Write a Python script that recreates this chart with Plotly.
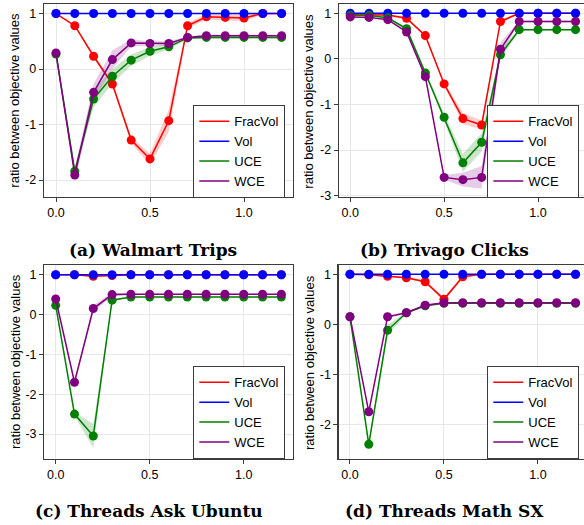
import plotly.graph_objects as go

X = [0.0, 0.1, 0.2, 0.3, 0.4, 0.5, 0.6, 0.7, 0.8, 0.9, 1.0, 1.1, 1.2]
SERIES = ["FracVol", "Vol", "UCE", "WCE"]
CAPTIONS = ["(a) Walmart Trips", "(b) Trivago Clicks", "(c) Threads Ask Ubuntu", "(d) Threads Math SX"]
X_TICKS = [0.0, 0.5, 1.0]
X_TICK_LABELS = ["0.0", "0.5", "1.0"]

# (a) Walmart Trips
A_FRACVOL = [1.0, 0.78, 0.23, -0.27, -1.28, -1.62, -0.93, 0.78, 0.94, 0.93, 0.92, 1.0, 1.0]
A_VOL = [1.0] * 13
A_UCE = [0.27, -1.84, -0.54, -0.13, 0.16, 0.32, 0.40, 0.56, 0.57, 0.57, 0.57, 0.57, 0.57]
A_WCE = [0.29, -1.91, -0.42, 0.17, 0.47, 0.46, 0.46, 0.57, 0.60, 0.60, 0.60, 0.60, 0.60]
A_FRACVOL_ERR = [0.0, 0.02, 0.03, 0.05, 0.06, 0.1, 0.2, 0.05, 0.05, 0.06, 0.06, 0.02, 0.0]
A_VOL_ERR = [0.0] * 13
A_UCE_ERR = [0.02, 0.06, 0.15, 0.13, 0.1, 0.08, 0.05, 0.02, 0.02, 0.02, 0.02, 0.02, 0.02]
A_WCE_ERR = [0.02, 0.12, 0.15, 0.17, 0.06, 0.04, 0.04, 0.02, 0.02, 0.02, 0.02, 0.02, 0.02]

# (b) Trivago Clicks
B_FRACVOL = [0.97, 0.97, 0.96, 0.89, 0.51, -0.55, -1.31, -1.45, 0.82, 1.0, 1.0, 1.0, 1.0]
B_VOL = [1.0] * 13
B_UCE = [0.95, 0.95, 0.90, 0.66, -0.31, -1.28, -2.28, -1.83, 0.09, 0.64, 0.64, 0.64, 0.64]
B_WCE = [0.92, 0.91, 0.86, 0.59, -0.39, -2.60, -2.65, -2.60, 0.21, 0.82, 0.82, 0.82, 0.82]
B_FRACVOL_ERR = [0.01, 0.01, 0.02, 0.03, 0.03, 0.04, 0.12, 0.1, 0.05, 0.01, 0.0, 0.0, 0.0]
B_VOL_ERR = [0.0] * 13
B_UCE_ERR = [0.01, 0.01, 0.02, 0.03, 0.05, 0.08, 0.2, 0.2, 0.1, 0.03, 0.02, 0.02, 0.02]
B_WCE_ERR = [0.01, 0.01, 0.02, 0.03, 0.05, 0.05, 0.15, 0.25, 0.15, 0.02, 0.02, 0.02, 0.02]

# (c) Threads Ask Ubuntu
C_FRACVOL = [1.0, 1.0, 0.96, 0.98, 1.0, 1.0, 1.0, 1.0, 1.0, 1.0, 1.0, 1.0, 1.0]
C_VOL = [1.0] * 13
C_UCE = [0.23, -2.50, -3.05, 0.36, 0.44, 0.44, 0.44, 0.44, 0.44, 0.44, 0.44, 0.44, 0.44]
C_WCE = [0.39, -1.70, 0.15, 0.50, 0.51, 0.51, 0.51, 0.51, 0.51, 0.51, 0.51, 0.51, 0.51]
C_FRACVOL_ERR = [0.0, 0.0, 0.03, 0.02, 0.0, 0.0, 0.0, 0.0, 0.0, 0.0, 0.0, 0.0, 0.0]
C_VOL_ERR = [0.0] * 13
C_UCE_ERR = [0.02, 0.05, 0.3, 0.02, 0.01, 0.01, 0.01, 0.01, 0.01, 0.01, 0.01, 0.01, 0.01]
C_WCE_ERR = [0.02, 0.05, 0.08, 0.05, 0.01, 0.01, 0.01, 0.01, 0.01, 0.01, 0.01, 0.01, 0.01]

# (d) Threads Math SX
D_FRACVOL = [1.0, 0.99, 0.96, 0.93, 0.85, 0.50, 0.95, 1.0, 1.0, 1.0, 1.0, 1.0, 1.0]
D_VOL = [1.0] * 13
D_UCE = [0.15, -2.40, -0.12, 0.23, 0.37, 0.42, 0.42, 0.42, 0.42, 0.42, 0.42, 0.42, 0.42]
D_WCE = [0.15, -1.75, 0.15, 0.23, 0.38, 0.43, 0.43, 0.43, 0.43, 0.43, 0.43, 0.43, 0.43]
D_FRACVOL_ERR = [0.0, 0.01, 0.02, 0.02, 0.03, 0.04, 0.03, 0.0, 0.0, 0.0, 0.0, 0.0, 0.0]
D_VOL_ERR = [0.0] * 13
D_UCE_ERR = [0.02, 0.05, 0.1, 0.03, 0.02, 0.01, 0.01, 0.01, 0.01, 0.01, 0.01, 0.01, 0.01]
D_WCE_ERR = [0.02, 0.04, 0.03, 0.02, 0.02, 0.01, 0.01, 0.01, 0.01, 0.01, 0.01, 0.01, 0.01]

PANELS = [
    ([A_FRACVOL, A_VOL, A_UCE, A_WCE], [A_FRACVOL_ERR, A_VOL_ERR, A_UCE_ERR, A_WCE_ERR]),
    ([B_FRACVOL, B_VOL, B_UCE, B_WCE], [B_FRACVOL_ERR, B_VOL_ERR, B_UCE_ERR, B_WCE_ERR]),
    ([C_FRACVOL, C_VOL, C_UCE, C_WCE], [C_FRACVOL_ERR, C_VOL_ERR, C_UCE_ERR, C_WCE_ERR]),
    ([D_FRACVOL, D_VOL, D_UCE, D_WCE], [D_FRACVOL_ERR, D_VOL_ERR, D_UCE_ERR, D_WCE_ERR]),
]

COLORS = ["rgb(255,0,0)", "rgb(0,0,255)", "rgb(0,128,0)", "rgb(128,0,128)"]
FILLS = ["rgba(255,0,0,0.2)", "rgba(0,0,255,0.2)", "rgba(0,128,0,0.2)", "rgba(128,0,128,0.2)"]

W, H = 584, 525


def px(xw):
    return min(max(xw / W, 0.0), 1.0)


def py(yw):
    return min(max(1 - yw / H, 0.0), 1.0)


# (left, right, top, bottom) in window pixels
BOXES = [(44, 293, 4.3, 197), (339, 584, 4.3, 197), (44.3, 293, 265.3, 458.7), (338.7, 584, 265.3, 458.7)]
XRANGES = [[-0.0638, 1.2606], [-0.060, 1.245], [-0.0606, 1.262], [-0.060, 1.245]]
YRANGES = [[-2.306, 1.166], [-3.03, 1.197], [-3.62, 1.236], [-2.688, 1.18]]
YTICKS = [[-2, -1, 0, 1], [-3, -2, -1, 0, 1], [-3, -2, -1, 0, 1], [-2, -1, 0, 1]]
LEGEND_POS = [(285, 105), (579, 105), (285, 366), (579, 366)]
YTITLE_X = [15, 309, 15, 309]
CAPTION_POS = [(153, 250), (444, 250), (149, 511), (444, 511)]

fig = go.Figure()
SANS = "Liberation Sans"
AXCOL = "#3c3c3c"

for p, (vals, errs) in enumerate(PANELS):
    xa = "x" if p == 0 else f"x{p+1}"
    ya = "y" if p == 0 else f"y{p+1}"
    lg = "legend" if p == 0 else f"legend{p+1}"
    for s, name in enumerate(SERIES):
        v = vals[s]
        e = errs[s]
        lo = [a - b for a, b in zip(v, e)]
        hi = [a + b for a, b in zip(v, e)]
        fig.add_trace(go.Scatter(x=X, y=lo, mode="lines", line=dict(width=0), hoverinfo="skip",
                                 showlegend=False, xaxis=xa, yaxis=ya))
        fig.add_trace(go.Scatter(x=X, y=hi, mode="lines", line=dict(width=0), fill="tonexty",
                                 fillcolor=FILLS[s], hoverinfo="skip", showlegend=False,
                                 xaxis=xa, yaxis=ya))
        fig.add_trace(go.Scatter(x=X, y=v, mode="lines", name=name,
                                 line=dict(color=COLORS[s], width=1.5),
                                 legend=lg, xaxis=xa, yaxis=ya))
        fig.add_trace(go.Scatter(x=X, y=v, mode="markers", name=name, showlegend=False,
                                 marker=dict(color=COLORS[s], size=9, line=dict(width=0)),
                                 xaxis=xa, yaxis=ya))

layout = dict(
    width=W, height=H, margin=dict(l=0, r=0, t=0, b=0, autoexpand=False),
    paper_bgcolor="white", plot_bgcolor="white",
    font=dict(family=SANS, size=13, color="black"),
)
annotations = []
for p in range(4):
    l, r, t, b = BOXES[p]
    xk = "xaxis" if p == 0 else f"xaxis{p+1}"
    yk = "yaxis" if p == 0 else f"yaxis{p+1}"
    anchor_x = "y" if p == 0 else f"y{p+1}"
    anchor_y = "x" if p == 0 else f"x{p+1}"
    right_panel = p in (1, 3)
    layout[xk] = dict(domain=[px(l), px(r)], range=XRANGES[p], anchor=anchor_x,
                      tickvals=X_TICKS, ticktext=X_TICK_LABELS, showgrid=True, gridcolor="#e8e8e8",
                      gridwidth=1, zeroline=False, showline=True, linecolor=AXCOL, linewidth=1.3,
                      mirror=True, ticks="outside", ticklen=4, tickcolor=AXCOL,
                      tickfont=dict(family=SANS, size=12.5, color="black"))
    layout[yk] = dict(domain=[py(b), py(t)], range=YRANGES[p], anchor=anchor_y,
                      tickvals=YTICKS[p], ticktext=[str(v) for v in YTICKS[p]],
                      showgrid=True, gridcolor="#e8e8e8",
                      gridwidth=1, zeroline=False, showline=True, linecolor=AXCOL, linewidth=1.3,
                      mirror=(not right_panel), ticks="outside", ticklen=4, tickcolor=AXCOL,
                      tickfont=dict(family=SANS, size=12.5, color="black"))
    lk = "legend" if p == 0 else f"legend{p+1}"
    lx, ly = LEGEND_POS[p]
    layout[lk] = dict(x=px(lx), y=py(ly), xanchor="right", yanchor="top", xref="paper", yref="paper",
                      bgcolor="white", bordercolor=AXCOL, borderwidth=1.3, traceorder="normal",
                      font=dict(family=SANS, size=13, color="black"), itemwidth=30,
                      tracegroupgap=0)
    annotations.append(dict(text="ratio between objective values", x=px(YTITLE_X[p]),
                            y=py((t + b) / 2), xref="paper", yref="paper", showarrow=False,
                            textangle=-90, font=dict(family=SANS, size=13, color="black"),
                            xanchor="center", yanchor="middle"))
    cx, cy = CAPTION_POS[p]
    annotations.append(dict(text="<b>" + CAPTIONS[p] + "</b>", x=px(cx), y=py(cy),
                            xref="paper", yref="paper", showarrow=False,
                            font=dict(family="DejaVu Serif", size=17, color="black"),
                            xanchor="center", yanchor="middle"))
layout["annotations"] = annotations
fig.update_layout(**layout)
fig.write_html("out.html",
               config={"displayModeBar": False, "staticPlot": True},
               post_script="document.body.style.margin='0';document.documentElement.style.overflow='hidden';")
